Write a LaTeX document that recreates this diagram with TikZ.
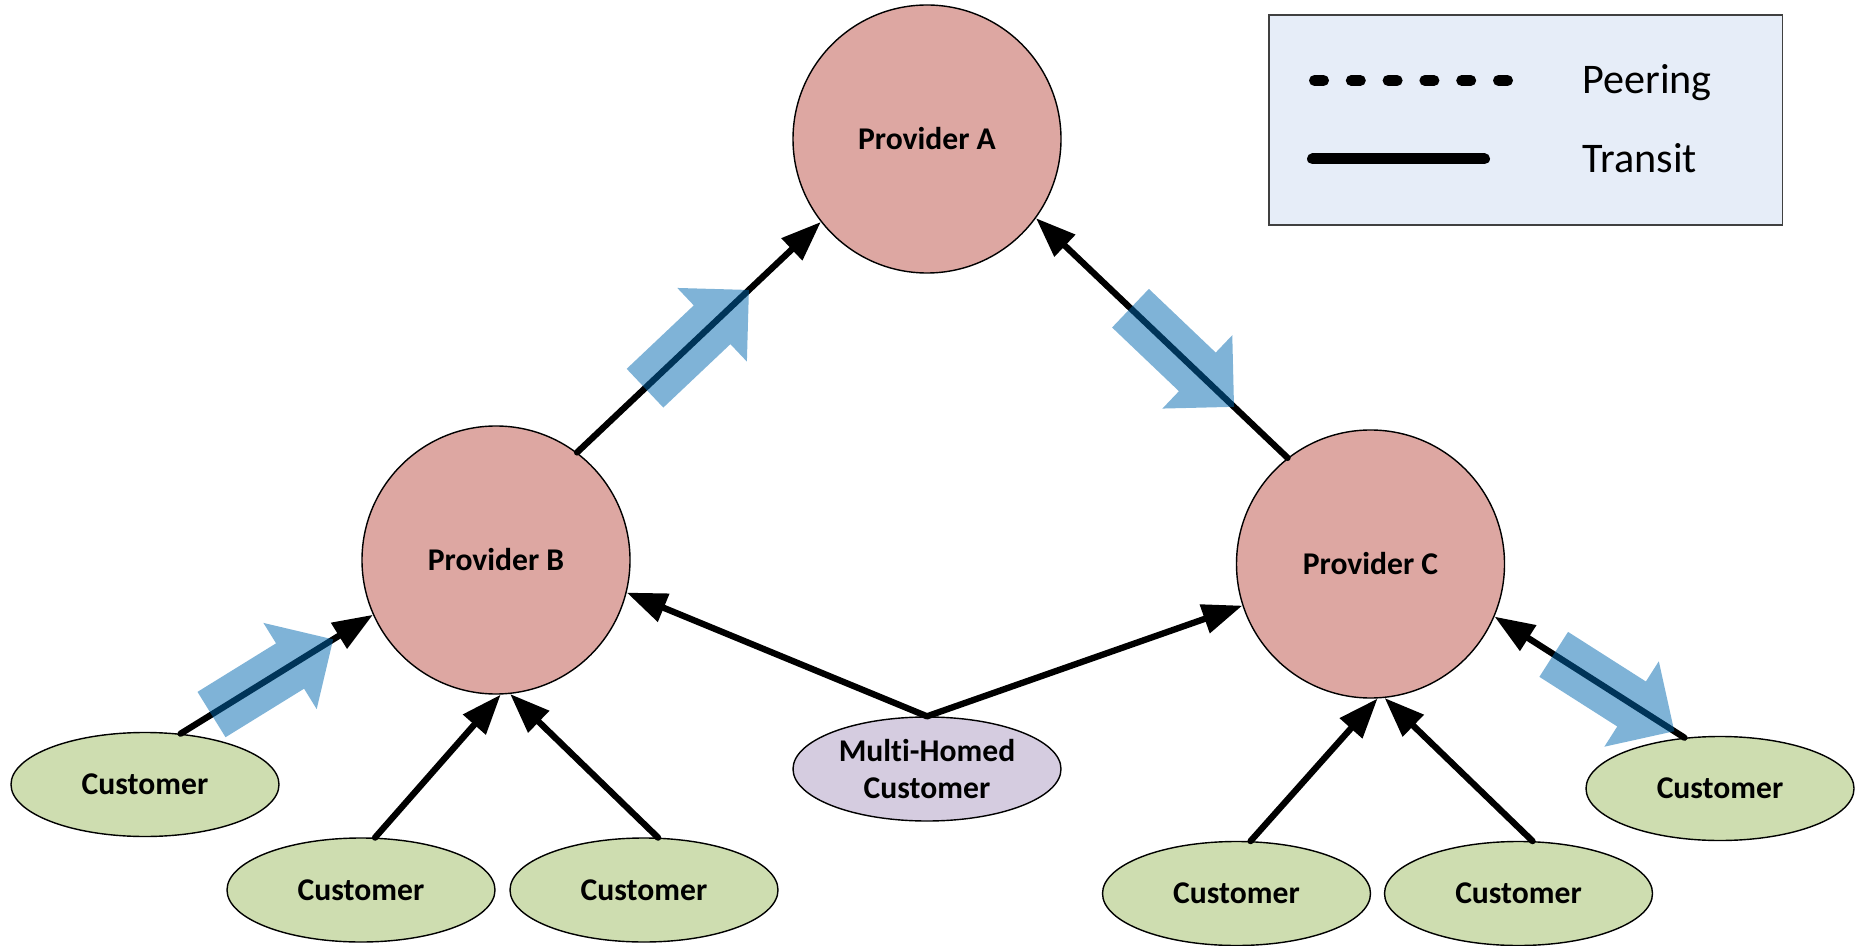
\documentclass[tikz,border=0pt]{standalone}
\usepackage{fontspec}
\setmainfont{Carlito}[Ligatures=CommonOff]
\usepackage{tikz}
\usetikzlibrary{shapes.geometric, shapes.arrows, arrows.meta}

\definecolor{provfill}{HTML}{DDA7A2}
\definecolor{custfill}{HTML}{CEDDB0}
\definecolor{multifill}{HTML}{D5CCE0}
\definecolor{legfill}{HTML}{E6EDF8}
\definecolor{flowblue}{RGB}{0,104,176}

\begin{document}
\begin{tikzpicture}[
    every node/.style={font=\fontsize{18}{21.6}\selectfont\bfseries},
    provider/.style={draw, circle, fill=provfill, line width=0.8pt, minimum size=5.36cm, inner sep=0pt},
    customer/.style={draw, ellipse, fill=custfill, line width=0.8pt, minimum width=5.36cm, minimum height=2.08cm, inner sep=0pt, align=center},
    link/.style={-{Triangle[length=0.8cm, width=0.58cm]}, line width=3.6pt, line cap=round},
    flow/.style={single arrow, fill=flowblue, fill opacity=0.5, draw=none, sloped, inner xsep=0pt, inner ysep=0.47cm,
        minimum height=2.86cm, minimum width=1.9cm, single arrow head extend=0.48cm, single arrow tip angle=90},
    legtext/.style={font=\fontsize{24}{28}\selectfont, anchor=base west, inner sep=0pt}
]
    \useasboundingbox (0,0) rectangle (37.16,18.9);

    % providers
    \node[provider] (pa) at (18.54, 16.12) {Provider A};
    \node[provider] (pb) at (9.92, 7.70) {Provider B};
    \node[provider] (pc) at (27.41, 7.62) {Provider C};

    % customers
    \node[customer] (c1) at (2.90, 3.21) {Customer};
    \node[customer] (c2) at (7.22, 1.10) {Customer};
    \node[customer] (c3) at (12.88, 1.10) {Customer};
    \node[customer, fill=multifill] (mh) at (18.54, 3.52) {Multi-Homed\\Customer};
    \node[customer] (c4) at (24.73, 1.03) {Customer};
    \node[customer] (c5) at (30.37, 1.03) {Customer};
    \node[customer] (c6) at (34.40, 3.13) {Customer};

    % transit links, blue arrows on top
    \draw[link] (pb.53) -- node[flow, pos=0.452] (fba) {} (pa.218);
    \draw[link] (pc.128) -- node[flow, pos=0.457] (fca) {} (pa.324);
    \draw[link] (c1.55) -- node[flow, pos=0.418] (fc1) {} (pb.204);
    \draw[link] (c2.75) -- (pb.272);
    \draw[link] (c3.75) -- (pb.276);
    \draw[link] (mh.north) -- (pb.346);
    \draw[link] (mh.north) -- (pc.198);
    \draw[link] (c4.75) -- (pc.273);
    \draw[link] (c5.75) -- (pc.276);
    \draw[link] (c6.125) -- node[flow, pos=0.43] (fc6) {} (pc.337);

    % legend
    \node[draw=black!75, fill=legfill, line width=0.6pt, minimum width=10.26cm, minimum height=4.2cm] (legend) at (30.51, 16.5) {};
    \draw[line width=0.22cm, line cap=round, dash pattern=on 0.18cm off 0.556cm] (26.29, 17.29) -- (30.15, 17.29);
    \draw[line width=0.22cm, line cap=round] (26.25, 15.72) -- (29.69, 15.72);
    \node[legtext] (lpeer) at (31.64, 17.02) {Peering};
    \node[legtext] (ltransit) at (31.64, 15.45) {Transit};
\end{tikzpicture}
\end{document}
